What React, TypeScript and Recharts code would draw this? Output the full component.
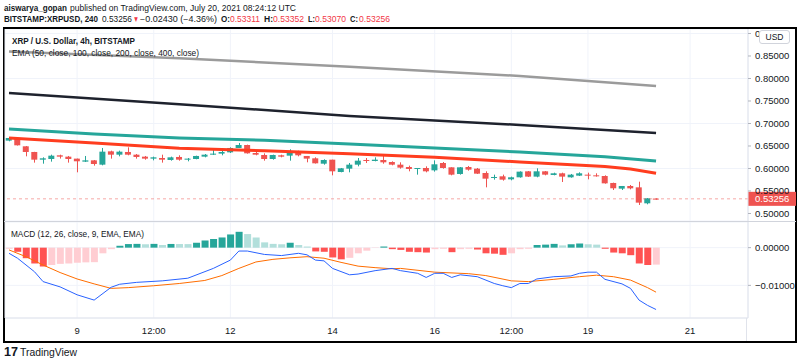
import React from "react";
import { ComposedChart, Bar, Line, XAxis, YAxis, CartesianGrid, ReferenceLine, Cell } from "recharts";

const FONT = '"Liberation Sans", Arial, sans-serif';
const UP = "#26a69a";
const DOWN = "#ef5350";
const GRID = "#f0f3fa";
const TEXT = "#131722";
const RED_TXT = "#f23645";

// 4h candles, July 7 16:00 -> July 20 08:00 (index 0..76)
const OPEN = [
  0.6619, 0.6656, 0.6493, 0.6367, 0.6196, 0.6211, 0.6293, 0.6263, 0.6219, 0.6152,
  0.6181, 0.6085, 0.6381, 0.6307, 0.6367, 0.6307, 0.6263, 0.6219, 0.6233, 0.6189,
  0.6256, 0.6196, 0.6211, 0.6263, 0.6307, 0.633, 0.6359, 0.6456, 0.6522, 0.6344,
  0.63, 0.6211, 0.6293, 0.6285, 0.6381, 0.6278, 0.6226, 0.6107, 0.6196, 0.5922,
  0.5996, 0.6085, 0.6189, 0.6167, 0.6189, 0.6144, 0.6085, 0.6033, 0.5996, 0.6011,
  0.5959, 0.6122, 0.6026, 0.5878, 0.6033, 0.5996, 0.59, 0.5796, 0.5826, 0.5759,
  0.5804, 0.5937, 0.5819, 0.5937, 0.5856, 0.5893, 0.5804, 0.5841, 0.5863, 0.5848,
  0.5833, 0.5678, 0.5552, 0.5611, 0.5581, 0.5226, 0.53311,
];
const HIGH = [
  0.6693, 0.667, 0.65, 0.637, 0.6248, 0.6307, 0.6307, 0.6278, 0.622, 0.6278,
  0.6189, 0.6456, 0.6396, 0.6396, 0.647, 0.6322, 0.6278, 0.6263, 0.6307, 0.6263,
  0.6293, 0.6233, 0.6285, 0.6322, 0.6441, 0.6411, 0.647, 0.6567, 0.653, 0.6367,
  0.6337, 0.6307, 0.6307, 0.6426, 0.6396, 0.6278, 0.6248, 0.6204, 0.6196, 0.6011,
  0.6122, 0.6233, 0.6233, 0.6248, 0.6278, 0.6159, 0.6137, 0.6063, 0.6011, 0.6048,
  0.6181, 0.6144, 0.6026, 0.6033, 0.6056, 0.6011, 0.5937, 0.5863, 0.5863, 0.5819,
  0.5937, 0.5944, 0.6004, 0.5944, 0.5907, 0.5907, 0.5878, 0.5915, 0.5907, 0.5893,
  0.5848, 0.5685, 0.5611, 0.5633, 0.5707, 0.5344, 0.53352,
];
const LOW = [
  0.6604, 0.651, 0.627, 0.613, 0.6107, 0.6152, 0.622, 0.613, 0.5915, 0.6144,
  0.6063, 0.607, 0.6219, 0.627, 0.6293, 0.6219, 0.6196, 0.6181, 0.613, 0.6174,
  0.6174, 0.6159, 0.6204, 0.6248, 0.63, 0.6293, 0.6344, 0.6456, 0.633, 0.6293,
  0.6174, 0.6196, 0.6248, 0.6174, 0.627, 0.6137, 0.611, 0.6085, 0.5848, 0.5915,
  0.5915, 0.6048, 0.6122, 0.6159, 0.6107, 0.607, 0.5996, 0.5937, 0.5863, 0.5915,
  0.593, 0.5996, 0.5848, 0.5863, 0.5952, 0.5878, 0.5581, 0.5752, 0.573, 0.5737,
  0.5796, 0.5811, 0.5804, 0.5848, 0.5848, 0.57, 0.5796, 0.5833, 0.5759, 0.5819,
  0.5663, 0.5522, 0.5522, 0.5537, 0.5189, 0.5204, 0.5307,
];
const CLOSE = [
  0.6678, 0.6515, 0.6367, 0.6196, 0.6226, 0.6285, 0.6263, 0.6211, 0.616, 0.6181,
  0.61, 0.6374, 0.6307, 0.6374, 0.6307, 0.6256, 0.6219, 0.6248, 0.6196, 0.6248,
  0.6196, 0.6219, 0.6278, 0.6307, 0.633, 0.6367, 0.6456, 0.6522, 0.6337, 0.6307,
  0.6211, 0.63, 0.6263, 0.6381, 0.6293, 0.6219, 0.6115, 0.6189, 0.5937, 0.6004,
  0.6085, 0.6174, 0.6167, 0.6196, 0.6137, 0.6085, 0.6019, 0.5989, 0.6011, 0.5937,
  0.6093, 0.6011, 0.5863, 0.6026, 0.5974, 0.5885, 0.5774, 0.5811, 0.5752, 0.5804,
  0.593, 0.5819, 0.5937, 0.5863, 0.5893, 0.5819, 0.5863, 0.5893, 0.5841, 0.5826,
  0.567, 0.556, 0.5611, 0.5559, 0.5241, 0.5337, 0.53256,
];
const LAST_CLOSE = 0.53256;

// EMA readings at sampled candle indices
const EMA50_IDX = [0, 10, 20, 30, 40, 50, 60, 70, 73, 76];
const EMA50 = [0.668, 0.6567, 0.6448, 0.6396, 0.633, 0.6248, 0.6144, 0.6045, 0.599, 0.5893];
const EMA100_IDX = [0, 10, 20, 30, 40, 50, 60, 70, 76];
const EMA100 = [0.6878, 0.6767, 0.6678, 0.6626, 0.6544, 0.6456, 0.6367, 0.6263, 0.6167];
const EMA200_IDX = [0, 20, 40, 60, 76];
const EMA200 = [0.768, 0.743, 0.7167, 0.6967, 0.679];
const EMA400_IDX = [0, 20, 40, 60, 76];
const EMA400 = [0.86, 0.845, 0.826, 0.8056, 0.7833];

// MACD (12, 26, 9)
const HIST = [
  -0.0003, -0.0011, -0.0028, -0.0042, -0.005, -0.0046, -0.0043, -0.0042, -0.004, -0.0039,
  -0.00385, -0.0015, -0.0004, 0.0005, 0.00095, 0.001, 0.0009, 0.001, 0.0007, 0.00098,
  0.00096, 0.00094, 0.0013, 0.0019, 0.0023, 0.0027, 0.0035, 0.0042, 0.0036, 0.0027,
  0.0014, 0.001, 0.0009, 0.0013, 0.0007, 0.0003, -0.001, -0.0011, -0.0026, -0.0031,
  -0.0027, -0.0015, -0.0008, -0.0001, 0.0003, -0.0004, -0.0006, -0.0011, -0.0012, -0.0013,
  -0.0004, -0.0003, -0.0012, -0.0004, -0.0003, -0.0005, -0.0015, -0.0016, -0.0019, -0.0015,
  -0.0004, -0.0003, 0.0007, 0.0008, 0.001, 0.0006, 0.0009, 0.0011, 0.0009, 0.0008,
  -0.0003, -0.0013, -0.0015, -0.002, -0.0042, -0.0046, -0.0045,
];
const MACD_IDX = [
  0, 1, 3, 4, 6, 8, 10, 12, 13, 15, 18, 21, 24, 26, 27, 28, 30, 32, 34, 35, 36, 37, 38,
  40, 41, 43, 45, 46, 48, 49, 50, 51, 52, 53, 55, 57, 58, 59, 60, 61, 62, 64, 66, 67,
  68, 69, 70, 72, 73, 74, 75, 76,
];
const MACD = [
  -0.0015, -0.0028, -0.0064, -0.009, -0.0104, -0.0125, -0.0139, -0.0105, -0.0097, -0.0092,
  -0.0088, -0.0081, -0.0055, -0.0033, -0.0009, -0.0009, -0.0018, -0.0021, -0.0015, -0.0019,
  -0.0033, -0.0035, -0.0055, -0.0072, -0.007, -0.0061, -0.0055, -0.0061, -0.0068, -0.0079,
  -0.0068, -0.0068, -0.0079, -0.0072, -0.0077, -0.0095, -0.0101, -0.0106, -0.0095, -0.0095,
  -0.0083, -0.0077, -0.0075, -0.0068, -0.0065, -0.0065, -0.0084, -0.0096, -0.0108, -0.0139,
  -0.0153, -0.0164,
];
const SIGNAL_IDX = [
  0, 2, 4, 6, 8, 10, 12, 14, 17, 20, 23, 25, 27, 29, 31, 33, 35, 37, 39, 41, 43, 45, 46,
  50, 54, 56, 59, 61, 64, 67, 69, 71, 73, 75, 76,
];
const SIGNAL = [
  -0.0006, -0.0024, -0.0046, -0.0066, -0.0083, -0.0096, -0.0108, -0.0106, -0.0101, -0.0095,
  -0.0087, -0.0074, -0.0055, -0.0038, -0.0031, -0.0027, -0.0024, -0.0028, -0.0039, -0.0049,
  -0.0053, -0.0056, -0.0055, -0.0065, -0.0069, -0.0074, -0.0088, -0.009, -0.0084, -0.0077,
  -0.0073, -0.0077, -0.0086, -0.0106, -0.0118,
];

const TIME_TICKS = [8, 17, 26, 38, 50, 59, 68, 80];
const TIME_LABELS = ["9", "12:00", "12", "14", "16", "12:00", "19", "21"];
const PRICE_TICKS = [0.5, 0.55, 0.6, 0.65, 0.7, 0.75, 0.8, 0.85, 0.9];
const MACD_TICKS = [-0.01, 0];

const X_DOMAIN = [-0.47, 86.8];
const PRICE_DOMAIN = [0.4833, 0.91];
const MACD_DOMAIN = [-0.01865, 0.0068];

// header pieces: [text, x, width, bold, red]
const HEADER_1: [string, number, number, boolean, boolean][] = [
  ["aiswarya_gopan", 4, 63, true, false],
  ["published on TradingView.com, July 20, 2021 08:24:12 UTC", 70, 226, false, false],
];
const HEADER_2: [string, number, number, boolean, boolean][] = [
  ["BITSTAMP:XRPUSD, 240", 4, 94, true, false],
  ["0.53256", 102, 30, false, false],
  ["\u25BC", 133, 6, false, true],
  ["\u22120.02430 (\u22124.36%)", 140, 77, false, false],
  ["O:", 221, 9, true, false],
  ["0.53311", 230, 30, false, true],
  ["H:", 264, 9, true, false],
  ["0.53352", 273, 31, false, true],
  ["L:", 308, 7, true, false],
  ["0.53070", 315, 31, false, true],
  ["C:", 350, 8, true, false],
  ["0.53256", 359, 31, false, true],
];

const at = (idx: number[], vals: number[], i: number) => {
  const k = idx.indexOf(i);
  return k >= 0 ? vals[k] : null;
};

const rows = OPEN.map((o, i) => ({
  i,
  o,
  h: HIGH[i],
  l: LOW[i],
  c: CLOSE[i],
  ema50: at(EMA50_IDX, EMA50, i),
  ema100: at(EMA100_IDX, EMA100, i),
  ema200: at(EMA200_IDX, EMA200, i),
  ema400: at(EMA400_IDX, EMA400, i),
  hist: HIST[i],
  macd: at(MACD_IDX, MACD, i),
  signal: at(SIGNAL_IDX, SIGNAL, i),
}));

const histColor = (i: number) => {
  const v = HIST[i];
  const prev = i > 0 ? HIST[i - 1] : -Infinity;
  if (v >= 0) return prev < v ? "#26a69a" : "#b2dfdb";
  return prev < v ? "#ffcdd2" : "#ff5252";
};

const Candle = (props: any) => {
  const { x, y, width, height, payload } = props;
  if (!payload) return null;
  const { o, h, l, c } = payload;
  const top = Math.min(y, y + height);
  const span = Math.abs(height);
  const k = h - l > 0 ? span / (h - l) : 0;
  const bTop = top + (h - Math.max(o, c)) * k;
  const bBot = top + (h - Math.min(o, c)) * k;
  const color = c >= o ? UP : DOWN;
  const cx = Math.round(x + width / 2) + 0.5;
  return (
    <g>
      <line x1={cx} x2={cx} y1={top} y2={top + span} stroke={color} strokeWidth={1} />
      <rect x={x} y={bTop} width={width} height={Math.max(1, bBot - bTop)} fill={color} />
    </g>
  );
};

const PriceTag = (props: any) => {
  const vb = props.viewBox;
  if (!vb) return null;
  const x = vb.x + vb.width;
  return (
    <g>
      <rect x={x} y={vb.y - 7} width={49} height={14} fill="#ef5350" />
      <text x={x + 7} y={vb.y + 3.5} fontSize={9.5} fill="#fff" fontFamily={FONT}>
        {LAST_CLOSE.toFixed(5)}
      </text>
    </g>
  );
};

const tickStyle = { fontSize: 9.5, fill: TEXT, fontFamily: FONT };
const fmtMacd = (v: number) => (v < 0 ? "\u2212" + Math.abs(v).toFixed(5) : v.toFixed(5));

const headerLine = (parts: [string, number, number, boolean, boolean][], y: number) =>
  parts.map(([t, x, w, bold, red], k) => (
    <text key={k} x={x} y={y} fontSize={8.2} fontWeight={bold ? "bold" : "normal"} fill={red ? RED_TXT : TEXT} textLength={w} lengthAdjust="spacingAndGlyphs">
      {t}
    </text>
  ));

export default function App() {
  return (
    <div style={{ position: "absolute", left: 0, top: 0, width: 800, height: 362, background: "#fff", fontFamily: FONT, overflow: "hidden" }}>
      <div style={{ position: "absolute", left: 3, top: 27, width: 794, height: 316, border: "2px solid #000", boxSizing: "border-box" }} />

      <div style={{ position: "absolute", left: 0, top: 29 }}>
        <ComposedChart width={796} height={192} data={rows} margin={{ top: 0, right: 0, bottom: 0, left: 5 }}>
          <CartesianGrid stroke={GRID} />
          <XAxis type="number" dataKey="i" domain={X_DOMAIN} ticks={TIME_TICKS} hide allowDataOverflow />
          <YAxis
            orientation="right"
            domain={PRICE_DOMAIN}
            ticks={PRICE_TICKS}
            width={48}
            allowDataOverflow
            tick={tickStyle}
            tickSize={3}
            tickMargin={4}
            tickLine={{ stroke: "#b2b5be" }}
            axisLine={{ stroke: "#e0e3eb" }}
            tickFormatter={(v: number) => v.toFixed(5)}
          />
          <ReferenceLine y={LAST_CLOSE} stroke="#ef5350" strokeOpacity={0.5} strokeDasharray="3 3" label={(p: any) => <PriceTag viewBox={p.viewBox} />} />
          <Line dataKey="ema400" stroke="#9b9b9b" strokeWidth={2.5} dot={false} connectNulls isAnimationActive={false} />
          <Line dataKey="ema200" stroke="#1e222d" strokeWidth={2.5} dot={false} connectNulls isAnimationActive={false} />
          <Line dataKey="ema100" stroke="#26a69a" strokeWidth={3} dot={false} connectNulls isAnimationActive={false} />
          <Line dataKey="ema50" stroke="#ff3d1f" strokeWidth={3} dot={false} connectNulls isAnimationActive={false} />
          <Bar dataKey={(d: any) => [d.l, d.h]} barSize={6} shape={<Candle />} isAnimationActive={false} />
        </ComposedChart>
      </div>

      <div style={{ position: "absolute", left: 4, top: 221, width: 792, height: 1, background: "#d1d4dc" }} />

      <div style={{ position: "absolute", left: 0, top: 222 }}>
        <ComposedChart width={796} height={119} data={rows} margin={{ top: 0, right: 0, bottom: 0, left: 5 }}>
          <CartesianGrid stroke={GRID} />
          <XAxis
            type="number"
            dataKey="i"
            domain={X_DOMAIN}
            ticks={TIME_TICKS}
            allowDataOverflow
            height={23}
            tick={tickStyle}
            tickLine={false}
            tickMargin={3}
            axisLine={{ stroke: "#e0e3eb" }}
            tickFormatter={(v: number) => TIME_LABELS[TIME_TICKS.indexOf(v)] ?? ""}
          />
          <YAxis
            orientation="right"
            domain={MACD_DOMAIN}
            ticks={MACD_TICKS}
            width={48}
            allowDataOverflow
            tick={tickStyle}
            tickSize={3}
            tickMargin={4}
            tickLine={{ stroke: "#b2b5be" }}
            axisLine={{ stroke: "#e0e3eb" }}
            tickFormatter={fmtMacd}
          />
          <Bar dataKey="hist" barSize={7} isAnimationActive={false}>
            {rows.map((r) => (
              <Cell key={r.i} fill={histColor(r.i)} />
            ))}
          </Bar>
          <Line dataKey="signal" stroke="#ff6d00" strokeWidth={1} dot={false} connectNulls isAnimationActive={false} />
          <Line dataKey="macd" stroke="#2962ff" strokeWidth={1} dot={false} connectNulls isAnimationActive={false} />
        </ComposedChart>
      </div>

      <div style={{ position: "absolute", left: 746, top: 318, width: 1, height: 23, background: "#e0e3eb" }} />
      <div style={{ position: "absolute", left: 759, top: 30, width: 31, height: 14, border: "1px solid #d1d4dc", borderRadius: 3, background: "#fff", boxSizing: "border-box", fontSize: 8.5, color: TEXT, textAlign: "center", lineHeight: "12px" }}>USD</div>

      <svg width={800} height={362} style={{ position: "absolute", left: 0, top: 0, pointerEvents: "none" }} fontFamily={FONT}>
        {headerLine(HEADER_1, 10.5)}
        {headerLine(HEADER_2, 21.5)}
        <text x={12} y={43.5} fontSize={9} fontWeight="bold" fill={TEXT} textLength={123} lengthAdjust="spacingAndGlyphs">
          XRP / U.S. Dollar, 4h, BITSTAMP
        </text>
        <text x={12} y={56} fontSize={9} fill={TEXT} textLength={187} lengthAdjust="spacingAndGlyphs">
          EMA (50, close, 100, close, 200, close, 400, close)
        </text>
        <text x={11} y={236.5} fontSize={9} fill={TEXT} textLength={133} lengthAdjust="spacingAndGlyphs">
          MACD (12, 26, close, 9, EMA, EMA)
        </text>
        <text x={4} y={356} fontSize={12} fontWeight={900} fill={TEXT} textLength={14} lengthAdjust="spacingAndGlyphs">17</text>
        <text x={20} y={356} fontSize={11} fill={TEXT} textLength={57} lengthAdjust="spacingAndGlyphs">TradingView</text>
      </svg>
    </div>
  );
}
